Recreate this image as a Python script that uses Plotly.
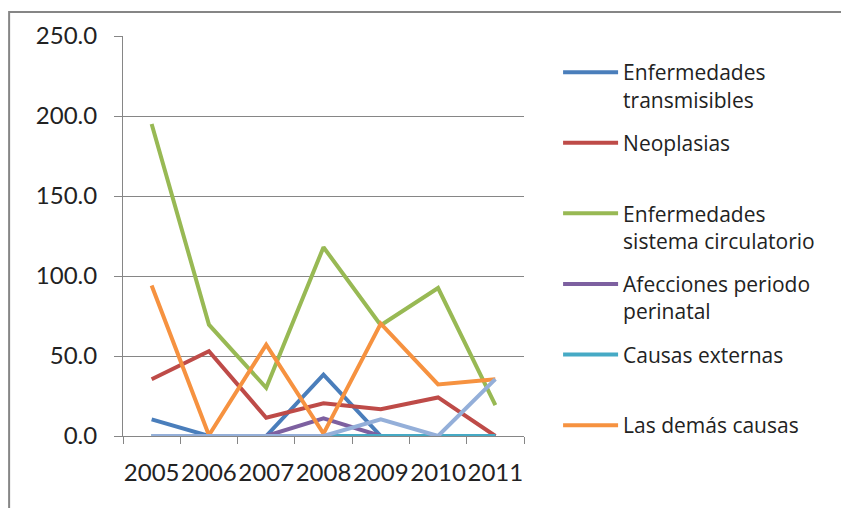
import plotly.graph_objects as go

years = ["2005", "2006", "2007", "2008", "2009", "2010", "2011"]

transmisibles = [10.4, 0, 0, 38.4, 0, 0, 0]
neoplasias = [35.5, 53.0, 11.4, 20.4, 16.8, 24.1, 0]
circulatorio = [195.0, 69.6, 30.1, 118.0, 69.2, 92.5, 19.3]
perinatal = [0, 0, 0, 11.0, 0, 0, 0]
externas = [0, 0, 0, 0, 0, 0, 0]
demas = [94.1, 0.5, 57.1, 1.5, 70.2, 32.2, 35.5]
otra = [0, 0, 0, 0, 10.4, 0, 35.5]

series = [
    ("Enfermedades<br>transmisibles", transmisibles, "#4A7EBB", True),
    ("Neoplasias<br> ", neoplasias, "#BE4B48", True),
    ("Enfermedades<br>sistema circulatorio", circulatorio, "#98B954", True),
    ("Afecciones periodo<br>perinatal", perinatal, "#7D60A0", True),
    ("Causas externas<br> ", externas, "#46AAC5", True),
    ("Las demás causas", demas, "#F69240", True),
    ("Otras", otra, "#94AFD9", False),
]

AXFONT = "Lato"
LEGFONT = "Open Sans"
GRAY = "#868686"
TXT = "#222222"

fig = go.Figure()
for i, (name, vals, color, show) in enumerate(series):
    fig.add_trace(go.Scatter(
        x=years, y=vals, name=name, mode="lines",
        line=dict(color=color, width=4),
        legendgroup=f"g{i}", showlegend=show,
    ))

fig.update_xaxes(
    type="category", range=[-0.5, 6.5], tickson="boundaries",
    ticks="outside", ticklen=7, tickcolor=GRAY, tickangle=0,
    showline=True, linecolor=GRAY, linewidth=1, showgrid=False,
    ticklabelstandoff=15, tickfont=dict(family=AXFONT, size=24, color=TXT),
)
fig.update_yaxes(
    range=[0, 250], tickvals=[0, 50, 100, 150, 200, 250], tickformat=".1f",
    ticks="outside", ticklen=8, tickcolor=GRAY,
    showline=True, linecolor=GRAY, linewidth=1,
    showgrid=True, gridcolor=GRAY, gridwidth=1, zeroline=False,
    ticklabelstandoff=12, tickfont=dict(family=AXFONT, size=24, color=TXT),
)

fig.update_layout(
    width=849, height=508,
    margin=dict(l=115, r=333, t=28, b=80, autoexpand=False),
    paper_bgcolor="white", plot_bgcolor="white",
    font=dict(family=LEGFONT, size=21, color=TXT),
    legend=dict(
        x=1.085, y=0.96, xanchor="left", yanchor="top",
        traceorder="grouped", tracegroupgap=13, valign="top",
        font=dict(family=LEGFONT, size=21, color=TXT),
        itemwidth=55,
    ),
    showlegend=True,
)

# gray outer chart frame, partly cut off by the picture edges
fig.add_shape(type="rect", xref="paper", yref="paper",
              x0=-0.284, y0=-1, x1=3, y1=1.06,
              line=dict(color=GRAY, width=2), layer="below")

fig.write_html("out.html")
